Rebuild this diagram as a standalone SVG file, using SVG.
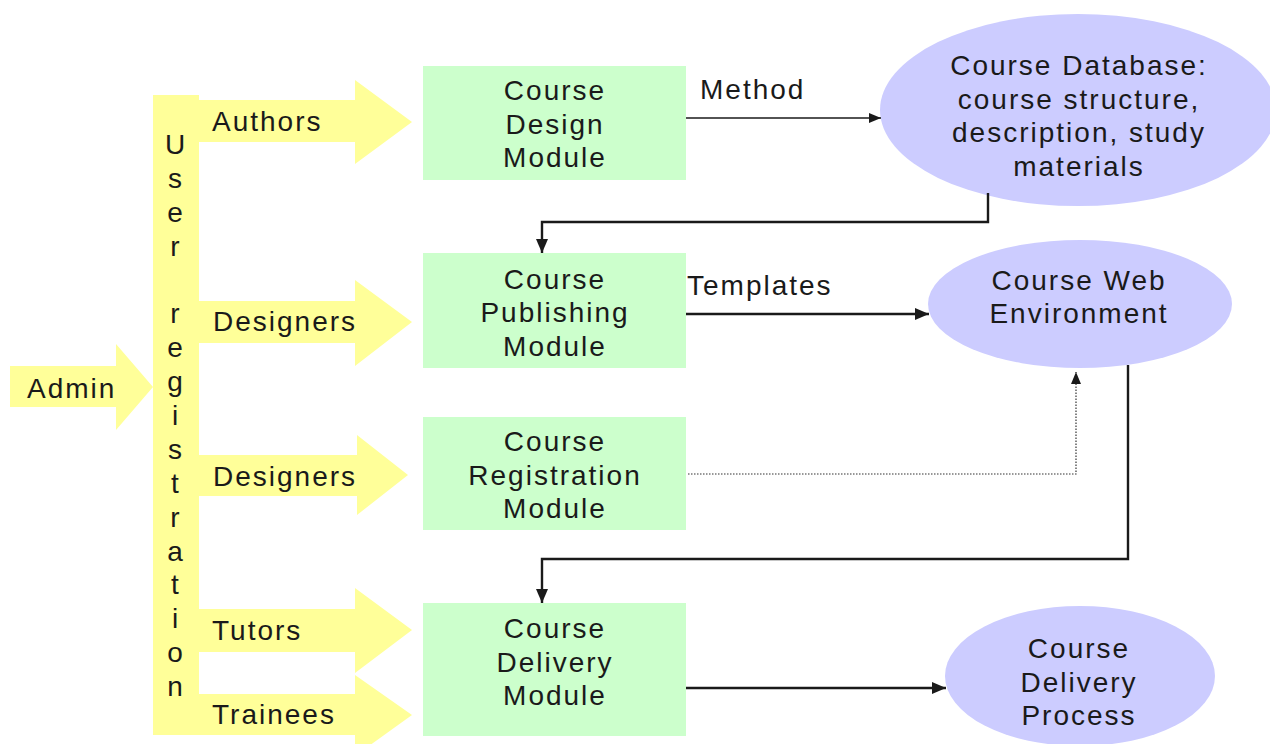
<svg xmlns="http://www.w3.org/2000/svg" width="1270" height="744" viewBox="0 0 1270 744">
<style>
text{font-family:"Liberation Sans",Arial,sans-serif;font-size:28px;fill:#1a1a1a;letter-spacing:2px}
.c{text-anchor:middle}
.y{fill:#ffff99}
.box{fill:#ccffcc}
.ell{fill:#ccccff}
.ln{fill:none;stroke:#1a1a1a;stroke-width:2.4}
.thin{fill:none;stroke:#1a1a1a;stroke-width:1.3}
.dot{fill:none;stroke:#333;stroke-width:1.2;stroke-dasharray:1.5 1.5}
</style>
<defs>
<marker id="ah" markerUnits="userSpaceOnUse" markerWidth="16" markerHeight="14" refX="14" refY="7" orient="auto"><path d="M0,1 L14,7 L0,13 z" fill="#1a1a1a"/></marker>
<marker id="ahs" markerUnits="userSpaceOnUse" markerWidth="14" markerHeight="12" refX="12" refY="6" orient="auto"><path d="M0,1 L12,6 L0,11 z" fill="#1a1a1a"/></marker>
</defs>

<g id="registration">
<rect class="y" x="153" y="95" width="46" height="640"/>
<text class="c" x="176" y="154">U<tspan x="176" dy="34">s</tspan><tspan x="176" dy="34">e</tspan><tspan x="176" dy="34">r</tspan><tspan x="176" dy="67">r</tspan><tspan x="176" dy="34">e</tspan><tspan x="176" dy="34">g</tspan><tspan x="176" dy="33.5">i</tspan><tspan x="176" dy="34">s</tspan><tspan x="176" dy="34">t</tspan><tspan x="176" dy="34">r</tspan><tspan x="176" dy="34">a</tspan><tspan x="176" dy="33.5">t</tspan><tspan x="176" dy="34">i</tspan><tspan x="176" dy="34">o</tspan><tspan x="176" dy="34">n</tspan></text>
</g>

<g id="admin">
<polygon class="y" points="10,366 116,366 116,344 153,387 116,430 116,407 10,407"/>
<text x="27" y="398">Admin</text>
</g>
<g id="authors">
<polygon class="y" points="199,100 355,100 355,80 412,122 355,164 355,142 199,142"/>
<text x="212" y="131">Authors</text>
</g>
<g id="designers1">
<polygon class="y" points="199,301 355,301 355,280 412,322 355,366 355,343 199,343"/>
<text x="213" y="331">Designers</text>
</g>
<g id="designers2">
<polygon class="y" points="199,455 357,455 357,435 408,475 357,515 357,496 199,496"/>
<text x="213" y="486">Designers</text>
</g>
<g id="tutors">
<polygon class="y" points="199,609 355,609 355,588 412,630 355,673 355,652 199,652"/>
<text x="212" y="640">Tutors</text>
</g>
<g id="trainees">
<polygon class="y" points="199,694 355,694 355,675 412,715 355,756 355,735 199,735"/>
<text x="212" y="724">Trainees</text>
</g>

<g id="design">
<rect class="box" x="423" y="66" width="263" height="114"/>
<text class="c" x="555" y="100">Course</text>
<text class="c" x="555" y="134">Design</text>
<text class="c" x="555" y="167">Module</text>
</g>
<g id="publishing">
<rect class="box" x="423" y="253" width="263" height="115"/>
<text class="c" x="555" y="289">Course</text>
<text class="c" x="555" y="322">Publishing</text>
<text class="c" x="555" y="356">Module</text>
</g>
<g id="registrationModule">
<rect class="box" x="423" y="417" width="263" height="113"/>
<text class="c" x="555" y="451">Course</text>
<text class="c" x="555" y="485">Registration</text>
<text class="c" x="555" y="518">Module</text>
</g>
<g id="delivery">
<rect class="box" x="423" y="603" width="263" height="133"/>
<text class="c" x="555" y="638">Course</text>
<text class="c" x="555" y="672">Delivery</text>
<text class="c" x="555" y="705">Module</text>
</g>

<g id="database">
<ellipse class="ell" cx="1078" cy="110" rx="198" ry="96"/>
<text class="c" x="1079" y="75">Course Database:</text>
<text class="c" x="1079" y="109">course structure,</text>
<text class="c" x="1079" y="142">description, study</text>
<text class="c" x="1079" y="176">materials</text>
</g>
<g id="webenv">
<ellipse class="ell" cx="1080" cy="304" rx="152" ry="64"/>
<text class="c" x="1079" y="290">Course Web</text>
<text class="c" x="1079" y="323">Environment</text>
</g>
<g id="process">
<ellipse class="ell" cx="1080" cy="676" rx="135" ry="70"/>
<text class="c" x="1079" y="658">Course</text>
<text class="c" x="1079" y="692">Delivery</text>
<text class="c" x="1079" y="725">Process</text>
</g>

<g id="connectors">
<path class="thin" d="M686,118 H881" marker-end="url(#ahs)"/>
<text x="700" y="99">Method</text>
<path class="ln" d="M988,193 V222 H542 V253" marker-end="url(#ah)"/>
<path class="ln" d="M686,314 H929" marker-end="url(#ah)"/>
<text x="687" y="295">Templates</text>
<path class="dot" d="M688,474 H1076 V372" marker-end="url(#ahs)"/>
<path class="ln" d="M1128,365 V559 H542 V603" marker-end="url(#ah)"/>
<path class="ln" d="M686,688 H946" marker-end="url(#ah)"/>
</g>
</svg>
